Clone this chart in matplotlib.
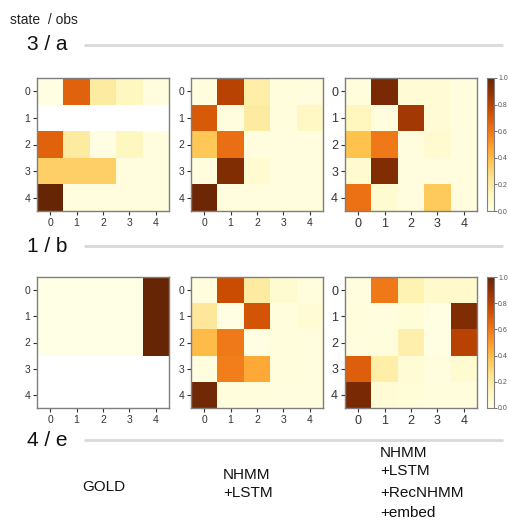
import numpy as np
import matplotlib
matplotlib.use("Agg")
import matplotlib.pyplot as plt

plt.rcParams['font.family'] = ['Liberation Sans', 'DejaVu Sans']

nan = np.nan
ticks = [0, 1, 2, 3, 4]
cbar_ticks = [0.0, 0.2, 0.4, 0.6, 0.8, 1.0]
section_labels = ["3 / a", "1 / b", "4 / e"]
model_labels = ["GOLD", "NHMM\n+LSTM", "NHMM\n+LSTM\n+RecNHMM\n+embed"]

gold_a = [[0.01, 0.67, 0.20, 0.11, 0.02],
          [nan, nan, nan, nan, nan],
          [0.67, 0.20, 0.01, 0.11, 0.02],
          [0.33, 0.33, 0.33, 0.02, 0.02],
          [1.00, 0.02, 0.02, 0.02, 0.02]]
lstm_a = [[0.02, 0.80, 0.18, 0.03, 0.02],
          [0.70, 0.02, 0.20, 0.03, 0.10],
          [0.36, 0.63, 0.02, 0.02, 0.02],
          [0.02, 0.93, 0.07, 0.02, 0.02],
          [0.98, 0.02, 0.02, 0.02, 0.02]]
rec_a = [[0.03, 0.95, 0.05, 0.05, 0.02],
         [0.12, 0.02, 0.85, 0.05, 0.02],
         [0.38, 0.60, 0.02, 0.07, 0.02],
         [0.07, 0.93, 0.02, 0.02, 0.02],
         [0.62, 0.06, 0.02, 0.35, 0.02]]
gold_b = [[0.0, 0.0, 0.0, 0.0, 1.0],
          [0.0, 0.0, 0.0, 0.0, 1.0],
          [0.0, 0.0, 0.0, 0.0, 1.0],
          [nan, nan, nan, nan, nan],
          [nan, nan, nan, nan, nan]]
lstm_b = [[0.02, 0.75, 0.20, 0.06, 0.03],
          [0.22, 0.01, 0.72, 0.03, 0.05],
          [0.40, 0.60, 0.01, 0.03, 0.02],
          [0.02, 0.58, 0.45, 0.03, 0.02],
          [0.97, 0.03, 0.03, 0.02, 0.02]]
rec_b = [[0.02, 0.60, 0.15, 0.08, 0.08],
         [0.03, 0.02, 0.04, 0.01, 0.93],
         [0.02, 0.03, 0.17, 0.01, 0.80],
         [0.68, 0.18, 0.05, 0.02, 0.06],
         [0.95, 0.05, 0.04, 0.03, 0.03]]

W, H = 508, 521
fig = plt.figure(figsize=(W / 100, H / 100), dpi=100)

def px_axes(x0, y0, x1, y1):
    return fig.add_axes([x0 / W, 1 - y1 / H, (x1 - x0) / W, (y1 - y0) / H])

cmap = plt.get_cmap('YlOrBr')
col_x = [(37, 169), (191, 323), (345, 477)]
row_y = [(78, 211), (277, 408)]
data = [[gold_a, lstm_a, rec_a], [gold_b, lstm_b, rec_b]]
spine_c = '#7f7f7f'
tick_sizes = [7.5, 7.5, 9]

for r in range(2):
    for c in range(3):
        ax = px_axes(col_x[c][0], row_y[r][0], col_x[c][1], row_y[r][1])
        im = ax.imshow(np.array(data[r][c], dtype=float), cmap=cmap, vmin=0, vmax=1,
                       aspect='auto', interpolation='nearest')
        ax.set_xticks(ticks)
        ax.set_yticks(ticks)
        ax.tick_params(labelsize=tick_sizes[c], colors='#333333', length=3,
                       width=0.8, pad=2)
        for s in ax.spines.values():
            s.set_color(spine_c)
            s.set_linewidth(1.0)
        if c == 2:
            cax = px_axes(487, row_y[r][0], 494, row_y[r][1])
            cb = fig.colorbar(im, cax=cax, ticks=cbar_ticks)
            cb.ax.tick_params(labelsize=5, colors='#555555', length=2, width=0.6, pad=1)
            cb.ax.set_yticklabels([f"{t:.1f}" for t in cbar_ticks])
            cb.outline.set_edgecolor(spine_c)
            cb.outline.set_linewidth(0.8)

# annotation layer
ov = fig.add_axes([0, 0, 1, 1], zorder=-1)
ov.set_xlim(0, W)
ov.set_ylim(H, 0)
ov.axis('off')
ov.text(10, 20, "state  / obs", fontsize=10, va='center', ha='left', color='#222222')
sec_y = [45, 246, 440]
for lab, y in zip(section_labels, sec_y):
    ov.text(27, y, lab, fontsize=15, va='center', ha='left', color='#111111')
    ov.plot([84, 503], [y, y], color='#d9d9d9', lw=2, solid_capstyle='butt')

ov.text(82, 487, model_labels[0], fontsize=11, va='center', ha='left', color='#111111')
l2 = model_labels[1].split("\n")
for t, y in zip(l2, [475, 493]):
    ov.text(223, y, t, fontsize=11, va='center', ha='left', color='#111111')
l3 = model_labels[2].split("\n")
for t, y in zip(l3, [453, 471, 493, 513]):
    ov.text(380, y, t, fontsize=11, va='center', ha='left', color='#111111')

fig.savefig("out.png", dpi=100)
